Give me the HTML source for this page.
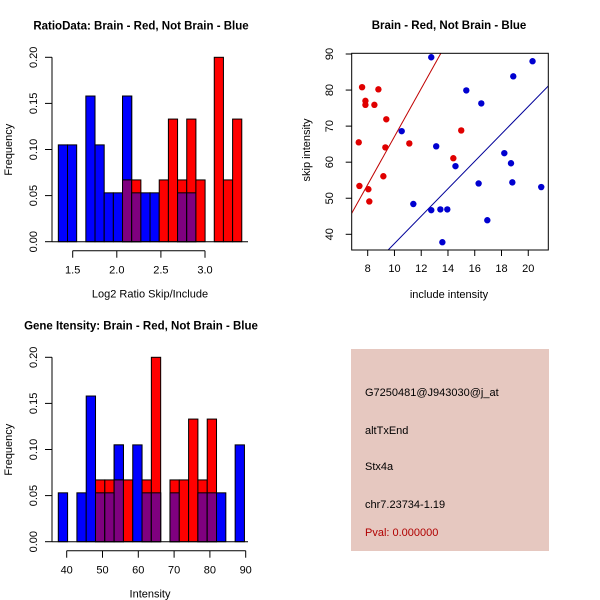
<!DOCTYPE html>
<html><head><meta charset="utf-8"><style>
body{margin:0;background:#fff}
svg{display:block;font-family:"Liberation Sans",sans-serif}
</style></head><body>
<svg id="s" width="600" height="600" viewBox="0 0 600 600">
<rect x="351" y="349" width="198" height="202" fill="#e6c8c0"/>
<text x="365" y="396" font-size="11">G7250481@J943030@j_at</text>
<text x="365" y="434" font-size="11">altTxEnd</text>
<text x="365" y="470" font-size="11">Stx4a</text>
<text x="365" y="508" font-size="11">chr7.23734-1.19</text>
<text x="365" y="536" font-size="11" fill="#b00000">Pval: 0.000000</text>
</svg>
<script>
// Ratio histogram data (bins start 1.337, width 0.104)
const ratioBlue=[.105,.105,0,.158,.105,.053,.053,.158,.053,.053,.053,0,0,.053,.053,0,0,0,0,0];
const ratioRed=[0,0,0,0,0,0,0,.067,.067,0,0,.067,.133,.067,.133,.067,0,.2,.067,.133];
// Intensity histogram data (bins start 37.65, width 2.6)
const intBlue=[.053,0,.053,.158,.053,.053,.105,0,.105,.053,.053,0,.053,0,0,.053,.053,.053,0,.105];
const intRed=[0,0,0,0,.067,.067,.067,.067,0,.067,.2,0,.067,.067,.133,.067,.133,0,0,0];
const histYTicks=["0.00","0.05","0.10","0.15","0.20"];
const ratioXTicks=[1.5,2.0,2.5,3.0];
const intXTicks=[40,50,60,70,80,90];
// Scatter data
const redX=[7.58,8.80,7.83,7.83,8.50,9.39,7.33,9.32,11.11,14.99,14.40,9.17,7.38,8.05,8.12];
const redY=[80.8,80.2,77.0,75.9,75.9,71.9,65.5,64.1,65.2,68.8,61.1,56.1,53.4,52.5,49.1];
const blueX=[12.75,20.32,18.88,15.37,16.49,10.54,13.12,18.21,18.71,14.56,16.29,18.81,20.97,11.41,12.75,13.43,13.95,16.94,13.58];
const blueY=[89.1,88.0,83.8,79.9,76.3,68.6,64.4,62.5,59.7,58.9,54.1,54.4,53.1,48.4,46.7,46.9,46.9,43.9,37.8];
const redFit=[0.5,6.66]; // intercept, slope
const blueFit=[-0.56,3.8];
const scatXTicks=[8,10,12,14,16,18,20];
const scatYTicks=[40,50,60,70,80,90];

const S=document.getElementById('s');const NS='http://www.w3.org/2000/svg';
function el(t,a,txt){const e=document.createElementNS(NS,t);for(const k in a)e.setAttribute(k,a[k]);if(txt!==undefined)e.textContent=txt;S.appendChild(e);return e;}

function hist(y0,start,width,x0val,x0px,pxPer,blue,red,xt,fmt,title,xlab,pre){
  const Y=v=>y0-v*922;const X=v=>x0px+(v-x0val)*pxPer;
  for(let i=0;i<blue.length;i++){
    const a=X(start+i*width),b=X(start+(i+1)*width);
    const bv=blue[i],rv=red[i],m=Math.min(bv,rv);
    if(bv>0){const r=el('rect',{x:a,y:Y(bv),width:b-a,height:Y(0)-Y(bv),fill:'#0000ff',stroke:'#000','stroke-width':1});
      
      }
    if(rv>0){const r=el('rect',{x:a,y:Y(rv),width:b-a,height:Y(0)-Y(rv),fill:'#ff0000',stroke:'#000','stroke-width':1});
      
      }
    if(bv>rv&&rv>0){el('rect',{x:a,y:Y(bv),width:b-a,height:Y(rv)-Y(bv),fill:'#0000ff',stroke:'#000','stroke-width':1});}
    if(m>0){const r=el('rect',{x:a,y:Y(m),width:b-a,height:Y(0)-Y(m),fill:'#7f007f',stroke:'#000','stroke-width':1});
      
      }
  }
  el('line',{x1:52,x2:248,y1:Y(0),y2:Y(0),stroke:'#000'});
  el('line',{x1:52,x2:52,y1:Y(0),y2:Y(.2),stroke:'#000'});
  histYTicks.forEach(t=>{const y=Y(+t);el('line',{x1:45,x2:52,y1:y,y2:y,stroke:'#000'});
    const tx=el('text',{x:0,y:0,'font-size':11,'text-anchor':'middle',transform:`translate(37,${y}) rotate(-90)`},t);
    
    });
  const ay=y0+9;
  el('line',{x1:X(xt[0]),x2:X(xt[xt.length-1]),y1:ay,y2:ay,stroke:'#000'});
  xt.forEach(t=>{el('line',{x1:X(t),x2:X(t),y1:ay,y2:ay+7,stroke:'#000'});
    const tx=el('text',{x:X(t),y:ay+23,'font-size':11,'text-anchor':'middle'},fmt(t));
    
    });
  const tl=el('text',{x:141,y:y0-212,'font-size':11.5,'font-weight':'bold','text-anchor':'middle'},title);
  
  
  const xl=el('text',{x:150,y:y0+56,'font-size':11,'text-anchor':'middle'},xlab);
  
  
  const yl=el('text',{x:0,y:0,'font-size':11,'text-anchor':'middle',transform:`translate(12,${y0-92}) rotate(-90)`},'Frequency');
  
  
}
hist(241.7,1.337,0.104,1.5,72.7,88.2,ratioBlue,ratioRed,ratioXTicks,t=>t.toFixed(1),'RatioData: Brain - Red, Not Brain - Blue','Log2 Ratio Skip/Include','ratio');
hist(541.7,37.65,2.6,40,66.7,3.58,intBlue,intRed,intXTicks,t=>String(t),'Gene Itensity: Brain - Red, Not Brain - Blue','Intensity','intensity');

// scatter
const SX=v=>367.7+(v-8)*13.38, SY=v=>54+(90-v)*3.606;
const L=351.7,R=548.3,T=53.3,B=250;
const cp=el('clipPath',{id:'cp'});const cr=document.createElementNS(NS,'rect');
cr.setAttribute('x',L);cr.setAttribute('y',T);cr.setAttribute('width',R-L);cr.setAttribute('height',B-T);cp.appendChild(cr);
function fit(f,c,name){const xa=6.8,xb=21.5;const ln=el('line',{x1:SX(xa),y1:SY(f[0]+f[1]*xa),x2:SX(xb),y2:SY(f[0]+f[1]*xb),stroke:c,'stroke-width':1,'clip-path':'url(#cp)'});
  
  }
fit(redFit,'#c00000','red-fit-line');fit(blueFit,'#000099','blue-fit-line');
redX.forEach((x,i)=>{const c=el('circle',{cx:SX(x),cy:SY(redY[i]),r:3.2,fill:'#e00000'});
  
  });
blueX.forEach((x,i)=>{const c=el('circle',{cx:SX(x),cy:SY(blueY[i]),r:3.2,fill:'#0000d0'});
  
  });
el('rect',{x:L,y:T,width:R-L,height:B-T,fill:'none',stroke:'#000'});
scatXTicks.forEach(t=>{el('line',{x1:SX(t),x2:SX(t),y1:B,y2:B+6,stroke:'#000'});
  const tx=el('text',{x:SX(t),y:B+22,'font-size':11,'text-anchor':'middle'},t);
  
  });
scatYTicks.forEach(t=>{el('line',{x1:L-6,x2:L,y1:SY(t),y2:SY(t),stroke:'#000'});
  const tx=el('text',{x:0,y:0,'font-size':11,'text-anchor':'middle',transform:`translate(333,${SY(t)}) rotate(-90)`},t);
  
  });
const st=el('text',{x:449,y:29,'font-size':11.5,'font-weight':'bold','text-anchor':'middle'},'Brain - Red, Not Brain - Blue');


const sx=el('text',{x:449,y:298,'font-size':11,'text-anchor':'middle'},'include intensity');


const sy=el('text',{x:0,y:0,'font-size':11,'text-anchor':'middle',transform:'translate(310,150) rotate(-90)'},'skip intensity');


</script>
</body></html>
